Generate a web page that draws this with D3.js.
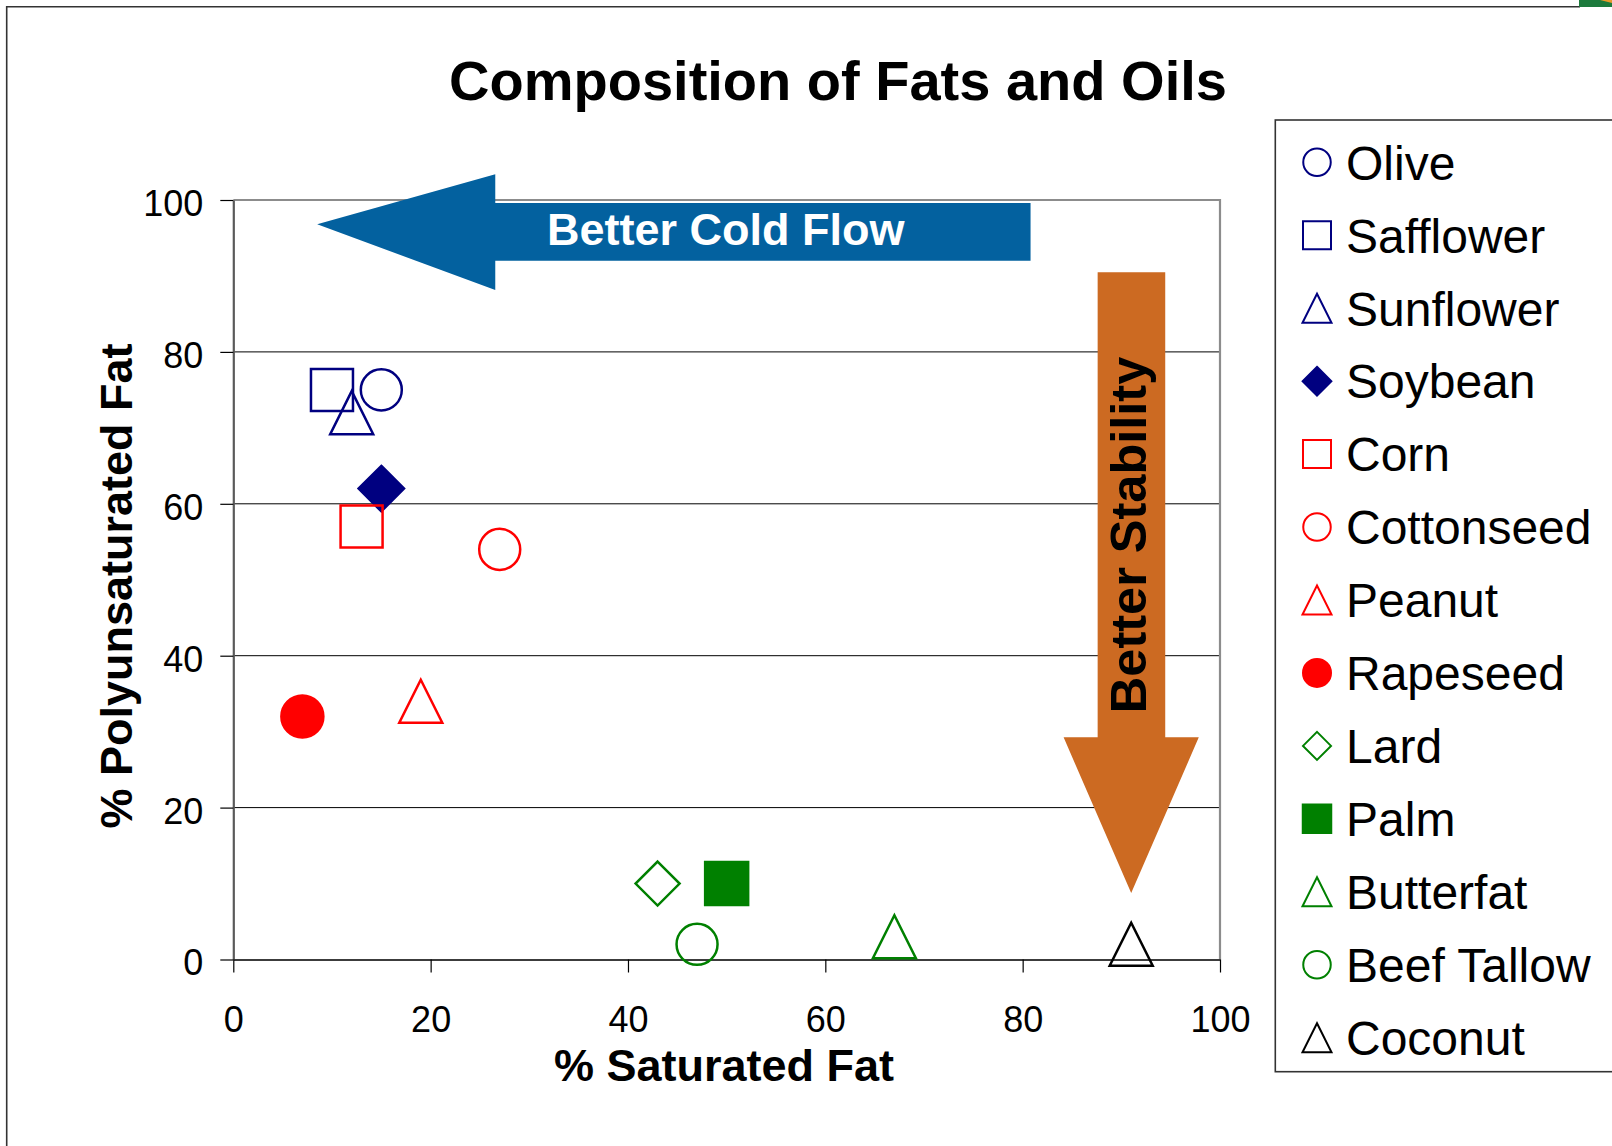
<!DOCTYPE html>
<html>
<head>
<meta charset="utf-8">
<script src="https://cdn.jsdelivr.net/npm/d3@7"></script>
<style>
  html, body { margin: 0; padding: 0; background: #fff; }
  svg { display: block; font-family: "Liberation Sans", Arial, sans-serif; }
</style>
</head>
<body>
<svg id="chart" width="1612" height="1146"></svg>
<script>
// Fats and oils: % saturated fat vs % polyunsaturated fat
const categories = ["Olive", "Safflower", "Sunflower", "Soybean", "Corn", "Cottonseed",
  "Peanut", "Rapeseed", "Lard", "Palm", "Butterfat", "Beef Tallow", "Coconut"];
const saturated = [15, 10, 12, 15, 13, 27, 19, 7, 43, 50, 67, 47, 91];
const polyunsaturated = [75, 75, 72, 62, 57, 54, 34, 32, 10, 10, 3, 2, 2];
const shapes = ["circle", "square", "triangle", "diamond", "square", "circle",
  "triangle", "circle", "diamond", "square", "triangle", "circle", "triangle"];
const filled = [false, false, false, true, false, false, false, true, false, true, false, false, false];
const colors = ["#000080", "#000080", "#000080", "#000080", "#FF0000", "#FF0000",
  "#FF0000", "#FF0000", "#008000", "#008000", "#008000", "#008000", "#000000"];
const xTicks = [0, 20, 40, 60, 80, 100];
const yTicks = [0, 20, 40, 60, 80, 100];

const FONT = '"Liberation Sans", Arial, sans-serif';
const svg = d3.select("#chart");
svg.append("rect").attr("width", 1612).attr("height", 1146).attr("fill", "#fff");

// slide frame and corner logo fragment
svg.append("path").attr("d", "M6.7,1146 V6.7 H1580").attr("fill", "none")
  .attr("stroke", "#333").attr("stroke-width", 1.6);
svg.append("path").attr("d", "M1579,0 H1612 V7 H1579 Z").attr("fill", "#1d7a3c");
svg.append("path").attr("d", "M1600,0 H1612 V3 Z").attr("fill", "#e89a2c");

const x = d3.scaleLinear().domain([0, 100]).range([233.3, 1220]);
const y = d3.scaleLinear().domain([0, 100]).range([959.5, 200]);

// title
svg.append("text").attr("x", 838).attr("y", 100).attr("text-anchor", "middle")
  .attr("font-size", 56).attr("font-weight", "bold").attr("fill", "#000")
  .text("Composition of Fats and Oils");

// gridlines and plot border
const plot = svg.append("g");
plot.selectAll("line.grid").data(yTicks.filter(v => v > 0 && v < 100)).join("line")
  .attr("class", "grid")
  .attr("x1", x(0)).attr("x2", x(100))
  .attr("y1", d => y(d)).attr("y2", d => y(d))
  .attr("stroke", "#000").attr("stroke-width", 1);
plot.append("path")
  .attr("d", `M${x(0)},${y(100)} H${x(100)} V${y(0)}`)
  .attr("fill", "none").attr("stroke", "#8c8c8c").attr("stroke-width", 2.2);

// axes
const yAxis = svg.append("g").attr("transform", `translate(${x(0)},0)`)
  .call(d3.axisLeft(y).tickValues(yTicks).tickSize(13).tickSizeOuter(0).tickPadding(17));
const xAxis = svg.append("g").attr("transform", `translate(0,${y(0)})`)
  .call(d3.axisBottom(x).tickValues(xTicks).tickSize(13).tickSizeOuter(0).tickPadding(34));
[yAxis, xAxis].forEach(g => {
  g.selectAll("text").attr("font-size", 36).attr("font-family", FONT).attr("fill", "#000");
  g.selectAll(".tick line").attr("stroke", "#000").attr("stroke-width", 1.2);
});
yAxis.selectAll("text").attr("dy", "0.43em");
yAxis.select(".domain").attr("stroke", "#5a5a5a").attr("stroke-width", 2.2);
xAxis.select(".domain").attr("stroke", "#3c3c3c").attr("stroke-width", 2.2);

// axis titles
svg.append("text").attr("x", 724).attr("y", 1081).attr("text-anchor", "middle")
  .attr("font-size", 45).attr("font-weight", "bold").text("% Saturated Fat");
svg.append("text").attr("transform", "translate(131.5,586) rotate(-90)")
  .attr("text-anchor", "middle").attr("font-size", 45).attr("font-weight", "bold")
  .text("% Polyunsaturated Fat");

// annotation arrows, in data units
const coldFlow = { tip: [8.5, 96.8], headX: 26.55, headTop: 103.4, headBottom: 88.15,
  shaftTop: 99.6, shaftBottom: 92.0, tailX: 80.8, label: "Better Cold Flow", labelAt: [31.8, 94.1] };
const stability = { tip: [91.0, 8.75], headY: 29.25, headLeft: 84.15, headRight: 97.85,
  shaftLeft: 87.6, shaftRight: 94.45, tailY: 90.5, label: "Better Stability", labelAt: [92.55, 55.9] };

const cf = coldFlow;
svg.append("path").attr("fill", "#03619f").attr("d", [
  [cf.tip[0], cf.tip[1]], [cf.headX, cf.headTop], [cf.headX, cf.shaftTop], [cf.tailX, cf.shaftTop],
  [cf.tailX, cf.shaftBottom], [cf.headX, cf.shaftBottom], [cf.headX, cf.headBottom]
].map((p, i) => (i ? "L" : "M") + x(p[0]) + "," + y(p[1])).join("") + "Z");
svg.append("text").attr("x", x(cf.labelAt[0])).attr("y", y(cf.labelAt[1]))
  .attr("font-size", 45).attr("font-weight", "bold").attr("fill", "#fff").text(cf.label);

const st = stability;
svg.append("path").attr("fill", "#cc6a22").attr("d", [
  [st.tip[0], st.tip[1]], [st.headLeft, st.headY], [st.shaftLeft, st.headY], [st.shaftLeft, st.tailY],
  [st.shaftRight, st.tailY], [st.shaftRight, st.headY], [st.headRight, st.headY]
].map((p, i) => (i ? "L" : "M") + x(p[0]) + "," + y(p[1])).join("") + "Z");
svg.append("text")
  .attr("transform", `translate(${x(st.labelAt[0])},${y(st.labelAt[1])}) rotate(-90)`)
  .attr("text-anchor", "middle").attr("font-size", 50.5).attr("font-weight", "bold")
  .attr("fill", "#000").text(st.label);

// marker shapes sized by their bounding box
function markerPath(shape, s) {
  const h = s / 2;
  switch (shape) {
    case "square": return `M${-h},${-h}H${h}V${h}H${-h}Z`;
    case "triangle": return `M0,${-h}L${h},${h}H${-h}Z`;
    case "diamond": return `M0,${-h}L${h},0L0,${h}L${-h},0Z`;
    default: return `M${h},0A${h},${h},0,1,1,${-h},0A${h},${h},0,1,1,${h},0Z`;
  }
}
const plotSize = { circle: 41, square: 42, triangle: 43, diamond: 44 };
const legendSize = { circle: 27.5, square: 28, triangle: 29, diamond: 28 };

const points = categories.map((name, i) => ({
  name, sx: saturated[i], py: polyunsaturated[i], shape: shapes[i], filled: filled[i], color: colors[i]
}));

svg.append("g").selectAll("path").data(points).join("path")
  .attr("transform", d => `translate(${x(d.sx)},${y(d.py)})`)
  .attr("d", d => markerPath(d.shape, plotSize[d.shape]))
  .attr("fill", d => d.filled ? d.color : "none")
  .attr("stroke", d => d.color)
  .attr("stroke-width", d => d.filled ? 3.5 : 2.5);

// legend
const legend = svg.append("g");
legend.append("rect").attr("x", 1275.3).attr("y", 120).attr("width", 400).attr("height", 951.7)
  .attr("fill", "#fff").attr("stroke", "#333").attr("stroke-width", 1.6);
const rows = legend.selectAll("g.row").data(points).join("g").attr("class", "row")
  .attr("transform", (d, i) => `translate(1317,${162.3 + i * 72.95})`);
rows.append("path")
  .attr("d", d => markerPath(d.shape, legendSize[d.shape]))
  .attr("fill", d => d.filled ? d.color : "none")
  .attr("stroke", d => d.color)
  .attr("stroke-width", d => d.filled ? 2.5 : 2);
rows.append("text").attr("x", 29).attr("y", 17.3)
  .attr("font-size", 48).attr("fill", "#000").text(d => d.name);
</script>
</body>
</html>
